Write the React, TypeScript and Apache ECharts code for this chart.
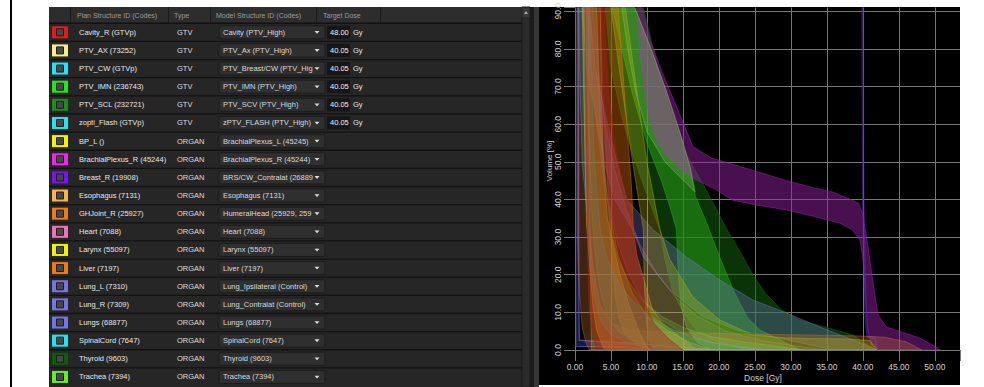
import React, { useEffect, useRef } from "react";
import * as echarts from "echarts";

// ---------------- table content ----------------
const columnHeaders = ["Plan Structure ID (Codes)", "Type", "Model Structure ID (Codes)", "Target Dose"];
const planStructureIds = [
  "Cavity_R (GTVp)", "PTV_AX (73252)", "PTV_CW (GTVp)", "PTV_IMN (236743)", "PTV_SCL (232721)",
  "zopti_Flash (GTVp)", "BP_L ()", "BrachialPlexus_R (45244)", "Breast_R (19908)", "Esophagus (7131)",
  "GHJoint_R (25927)", "Heart (7088)", "Larynx (55097)", "Liver (7197)", "Lung_L (7310)",
  "Lung_R (7309)", "Lungs (68877)", "SpinalCord (7647)", "Thyroid (9603)", "Trachea (7394)",
];
const structureTypes = [
  "GTV", "GTV", "GTV", "GTV", "GTV", "GTV",
  "ORGAN", "ORGAN", "ORGAN", "ORGAN", "ORGAN", "ORGAN", "ORGAN", "ORGAN",
  "ORGAN", "ORGAN", "ORGAN", "ORGAN", "ORGAN", "ORGAN",
];
const modelStructureIds = [
  "Cavity (PTV_High)", "PTV_Ax (PTV_High)", "PTV_Breast/CW (PTV_High", "PTV_IMN (PTV_High)", "PTV_SCV (PTV_High)",
  "zPTV_FLASH (PTV_High)", "BrachialPlexus_L (45245)", "BrachialPlexus_R (45244)", "BRS/CW_Contralat (268893",
  "Esophagus (7131)", "HumeralHead (25929, 2592", "Heart (7088)", "Larynx (55097)", "Liver (7197)",
  "Lung_Ipsilateral (Control)", "Lung_Contralat (Control)", "Lungs (68877)", "SpinalCord (7647)",
  "Thyroid (9603)", "Trachea (7394)",
];
const targetDoses = ["48.00", "40.05", "40.05", "40.05", "40.05", "40.05"];
const structureColors = [
  "#e31b1b", "#f4ef8a", "#25e2f2", "#22e622", "#1e8c1e", "#25e2f2", "#f2f200", "#f024f0",
  "#7a12f2", "#f8b444", "#f07a12", "#f072b4", "#f2f200", "#f07a12", "#7474e4", "#7474e4",
  "#7474e4", "#22e2f2", "#0b5c0b", "#62f022",
];

// ---------------- DVH bands: [dose Gy, volume %] ----------------
const thyroidUpper = [[9.5, 91], [11.5, 75], [13.5, 62], [15.5, 52], [17.5, 45], [19.5, 38], [21.1, 32], [23, 26], [24.7, 20], [26.5, 15], [28.5, 11], [31, 8], [35, 6], [38.6, 4], [40.5, 1.5], [42, 0]];
const thyroidLower = [[4.2, 91], [5, 75], [6.5, 62], [8, 52], [9.5, 44], [11, 36], [11.8, 32], [12.5, 24], [13.5, 16], [15, 10], [17, 5], [20, 2], [24, 0]];
const imnUpper = [[8.3, 91], [9.4, 85.7], [10.8, 78.8], [12.8, 68.2], [14.6, 57.6], [16, 48.6], [16.7, 41], [18.3, 33.7], [20.1, 24.7], [22, 15.9], [23.9, 8.8], [25.7, 5.3], [29.4, 1.9], [31.3, 0]];
const imnLower = [[5.2, 91], [6.5, 80], [8, 68], [10, 55], [12, 45], [13.2, 38], [14.1, 32], [14.3, 22], [14.7, 12], [15.5, 6], [17, 2], [19, 0]];
const plexusUpper = [[9.3, 91], [10.5, 82], [11.5, 77], [12.5, 72], [14.9, 61], [16.4, 54], [19, 51], [22.5, 49], [26, 47], [29.4, 45], [33, 43.2], [35.8, 42], [37.9, 40.3], [39.4, 39], [40, 36], [40.6, 29], [41.3, 19.4], [42.1, 9.3], [43.3, 6.1], [45.5, 4.7], [47.9, 3.2], [49.7, 1.3], [50.8, 0]];
const plexusLower = [[8.6, 91], [9, 80], [9.6, 70], [10.4, 61], [11.5, 55], [13, 51], [16, 46], [19.7, 42.5], [21.9, 39.8], [25, 38.6], [29.4, 37.2], [33, 35.6], [36.8, 33.7], [38.5, 32], [39.6, 29.2], [40, 24.7], [40.3, 15.9], [40.7, 5.3], [41.2, 1.3], [42.4, 0]];
const ptvAxUpper = [[8.3, 91], [9.4, 85.7], [10.8, 78.8], [12.8, 68.2], [14.6, 57.6], [16, 48.6], [16.7, 42]];
const ptvAxLower = [[6.5, 91], [7.5, 78], [8.5, 68], [10, 58], [12.5, 50], [16.7, 42]];
const lungsUpper = [[2, 91], [2.8, 75], [4.4, 61], [5.8, 50], [7.2, 40], [10.8, 32], [15.5, 24.7], [20.1, 18.6], [24.7, 13.3], [29.4, 9.8], [34, 6.1], [38.6, 2.7], [41, 0.8], [42, 0]];
const lungsLower = [[1, 91], [1.6, 75], [3, 61], [4, 50], [5.5, 40], [8, 32], [9.5, 24.7], [13.2, 15.9], [17.8, 8.8], [22.5, 5.3], [29.4, 2.7], [34, 0.8], [36, 0]];
const lungRUpper = [[0.5, 91], [0.5, 40], [0.55, 10], [0.6, 2.6], [3, 2.3], [8, 1.8], [12, 1.2], [16, 0.6], [20, 0]];
const lungRLower = [[0, 91], [0.1, 1], [5, 0.8], [10, 0.3], [14, 0]];
const breastUpper = [[40.05, 91], [40.15, 40], [40.5, 8], [40.8, 3.6], [41.8, 3.4], [42, 0]];
const breastLower = [[39.85, 91], [39.95, 40], [40.3, 8], [40.6, 3.2], [41.7, 3.0], [41.8, 0]];
const cavityUpper = [[4, 91], [4.6, 70], [5.5, 55], [6.5, 45], [7.5, 38], [8.1, 32], [8.6, 25], [9.2, 18], [9.8, 12], [11, 7], [13, 3], [15, 0]];
const cavityLower = [[1.4, 91], [1.5, 70], [1.6, 50], [1.7, 35], [1.8, 20], [2, 10], [2.5, 4], [3, 0]];
const ghJointUpper = [[6, 91], [6.8, 70], [7.4, 55], [7.9, 42], [8.1, 32], [8.6, 25], [9.4, 20], [10, 15.9], [10.8, 10.6], [12.2, 7], [14.6, 3.5], [16.4, 0.8], [17, 0]];
const ghJointLower = [[3.5, 91], [3.8, 70], [4.2, 55], [4.6, 42], [4.9, 32], [5.2, 22], [5.6, 14], [6.2, 8], [7, 4], [8.5, 1.5], [10, 0]];
const esophagusUpper = [[3.5, 91], [3.7, 70], [3.9, 50], [4.5, 35], [6.2, 20.4], [7.6, 11.4], [9, 4.5], [10, 0.8], [10.5, 0]];
const esophagusLower = [[1, 91], [1.2, 70], [1.4, 50], [1.6, 33.7], [2.1, 20.4], [2.5, 11.4], [3, 5.3], [3.9, 0.8], [4.2, 0]];
const larynxUpper = [[7, 91], [8.5, 70], [10, 50], [11.8, 32], [13.2, 24], [16.4, 14], [20.1, 8], [24.7, 4], [29.4, 3.2], [38, 2.9], [41, 2.5], [42, 0]];
const larynxLower = [[5, 91], [6.5, 70], [8, 50], [9.5, 32], [9.6, 20], [9.8, 10], [10.2, 3], [11, 0]];
const bpLUpper = [[3, 91], [3.5, 60], [4.5, 40], [6, 25], [8, 15], [10, 9], [13, 5], [16, 2], [19, 0]];
const bpLLower = [[1.9, 91], [2, 60], [2.1, 30], [2.2, 10], [2.3, 0]];
const tracheaUpper = [[3, 91], [3.4, 70], [4, 50], [4.9, 32], [6, 24], [7.5, 18], [9.5, 13], [12, 9], [15, 6], [19, 3.5], [24, 2], [30, 0.5], [32, 0]];
const tracheaLower = [[1.5, 91], [1.7, 70], [2, 50], [2.5, 32], [3, 22], [3.6, 15], [4.5, 9], [6, 5], [8, 2.5], [11, 1], [15, 0]];
const spinalCordUpper = [[2, 91], [2.3, 70], [2.7, 50], [3.5, 32], [4.5, 24], [6, 18], [8, 13], [10.5, 9], [13, 6], [16, 3.5], [20, 1.5], [25, 0.3], [27, 0]];
const spinalCordLower = [[0.5, 91], [0.7, 70], [1, 50], [1.9, 32], [2.2, 22], [2.7, 14], [3.5, 8], [5, 4], [7, 2], [10, 0.5], [13, 0]];
const heartUpper = [[2.5, 91], [3.2, 75], [4.2, 60], [5.5, 48], [7, 38], [9, 28], [11.5, 20], [14, 14], [17, 9], [21, 5], [26, 2.5], [31, 1], [35, 0]];
const heartLower = [[1.6, 91], [2.2, 75], [3, 60], [3.8, 48], [4.8, 38], [6, 28], [7.5, 20], [9.5, 13], [12, 8], [15, 4.5], [19, 2], [24, 0.5], [27, 0]];
const liverUpper = [[1.8, 91], [1.9, 60], [2, 32], [2.5, 22], [3.5, 12], [5, 7], [8, 5.2], [15, 4.6], [25, 4.2], [35, 3.9], [40, 3.7], [43, 3.4], [46, 2.2], [48.2, 0]];
const liverLower = [[0.3, 91], [0.3, 32], [0.6, 15], [1, 6], [1.5, 2], [2, 0]];

const FONT = '"Liberation Sans", Arial, sans-serif';

type Band = { name: string; upper: number[][]; lower: number[][]; rgb: string; a: number; stroke?: number; lw?: number };

const bands: Band[] = [
  { name: "Thyroid", upper: thyroidUpper, lower: thyroidLower, rgb: "18,95,14", a: 0.55 },
  { name: "PTV_IMN", upper: imnUpper, lower: imnLower, rgb: "40,165,22", a: 0.5 },
  { name: "BrachialPlexus_R", upper: plexusUpper, lower: plexusLower, rgb: "145,32,160", a: 0.5 },
  { name: "PTV_AX", upper: ptvAxUpper, lower: ptvAxLower, rgb: "190,215,150", a: 0.2 },
  { name: "Lungs", upper: lungsUpper, lower: lungsLower, rgb: "125,125,215", a: 0.3 },
  { name: "Lung_R", upper: lungRUpper, lower: lungRLower, rgb: "90,90,190", a: 0.3, stroke: 0.85, lw: 1.2 },
  { name: "Breast_R", upper: breastUpper, lower: breastLower, rgb: "90,40,180", a: 0.4, stroke: 0.5, lw: 1 },
  { name: "Liver", upper: liverUpper, lower: liverLower, rgb: "205,115,55", a: 0.3 },
  { name: "GHJoint_R", upper: ghJointUpper, lower: ghJointLower, rgb: "215,105,10", a: 0.42 },
  { name: "Esophagus", upper: esophagusUpper, lower: esophagusLower, rgb: "240,170,45", a: 0.42 },
  { name: "Larynx", upper: larynxUpper, lower: larynxLower, rgb: "185,185,20", a: 0.3 },
  { name: "BP_L", upper: bpLUpper, lower: bpLLower, rgb: "215,215,30", a: 0.2 },
  { name: "Trachea", upper: tracheaUpper, lower: tracheaLower, rgb: "115,225,55", a: 0.2 },
  { name: "SpinalCord", upper: spinalCordUpper, lower: spinalCordLower, rgb: "65,200,200", a: 0.22 },
  { name: "Heart", upper: heartUpper, lower: heartLower, rgb: "200,140,200", a: 0.16 },
  { name: "Cavity_R", upper: cavityUpper, lower: cavityLower, rgb: "170,30,30", a: 0.42 },
];

const ROW_H = 18.14;
const ROW0 = 23.2;

function tableElements(): any[] {
  const els: any[] = [];
  const rect = (x: number, y: number, w: number, h: number, fill: string, extra: any = {}) => ({
    type: "rect", silent: true, z: 10,
    shape: { x, y, width: w, height: h, r: extra.r || 0 },
    style: { fill, stroke: extra.stroke || null, lineWidth: extra.lw || 0 },
  });
  const text = (x: number, y: number, t: string, size: number, fill: string, extra: any = {}) => ({
    type: "text", silent: true, z: 12, x, y,
    style: {
      text: t, fill, font: `${size}px ${FONT}`, align: extra.align || "left", verticalAlign: "middle",
      width: extra.width, overflow: extra.width ? "truncate" : undefined, ellipsis: "",
    },
  });
  // left black border line
  els.push(rect(10, 0, 2, 387, "#000"));
  // panel background
  els.push(rect(49, 7, 473, 380, "#262626"));
  // header
  els.push(rect(49, 7, 473, 16, "#2d2d2d"));
  [70, 168, 210, 316, 380].forEach((x) => els.push(rect(x, 7, 1, 16, "#1a1a1a")));
  const headerX = [77, 174, 216, 323];
  columnHeaders.forEach((h, i) => els.push(text(headerX[i], 15.2, h, 7, "#9c9c9c")));
  planStructureIds.forEach((name, i) => {
    const top = ROW0 + i * ROW_H;
    const cy = top + ROW_H / 2;
    els.push(rect(49, top - 0.6, 473, 1.3, "#121212"));
    els.push(rect(52, cy - 6, 16, 12, structureColors[i]));
    els.push(rect(56.5, cy - 3.5, 7, 7, "#474747", { stroke: "#1c1c1c", lw: 1 }));
    els.push(text(79, cy, name, 7.5, "#e8e8e8"));
    els.push(text(177, cy, structureTypes[i], 7.5, "#dedede"));
    els.push(rect(219, cy - 6.5, 106, 13, "#2f2f2f", { r: 2, stroke: "#1d1d1d", lw: 1 }));
    els.push(text(223, cy, modelStructureIds[i], 7.5, "#dadada", { width: 93 }));
    els.push({
      type: "polygon", silent: true, z: 12,
      shape: { points: [[314.5, cy - 1.3], [319.5, cy - 1.3], [317, cy + 1.5]] },
      style: { fill: "#dcdcdc" },
    });
    if (i < targetDoses.length) {
      els.push(rect(327, cy - 6.5, 23, 13, "#161616"));
      els.push(text(330, cy, targetDoses[i], 7.5, "#f2f2f2"));
      els.push(text(353, cy, "Gy", 7.5, "#e6e6e6"));
    }
  });
  // scrollbar + splitter
  els.push(rect(522, 7, 8, 380, "#2b2b2b", { stroke: "#1a1a1a", lw: 1 }));
  els.push(rect(522.5, 8, 7, 9, "#383838"));
  els.push({ type: "polygon", silent: true, z: 12, shape: { points: [[524, 14], [528, 14], [526, 11]] }, style: { fill: "#aaaaaa" } });
  els.push(rect(530, 7, 4, 380, "#1b1b1b"));
  els.push(rect(534, 7, 5, 380, "#363636"));
  // chart background
  els.push({ type: "rect", silent: true, z: -10, shape: { x: 539, y: 7, width: 421, height: 378 }, style: { fill: "#000" } });
  // axis titles
  els.push({
    type: "text", silent: true, z: 12, x: 549, y: 161, rotation: Math.PI / 2,
    style: { text: "Volume [%]", fill: "#d4d4d4", font: `8px ${FONT}`, align: "center", verticalAlign: "middle" },
  });
  els.push({
    type: "text", silent: true, z: 12, x: 763, y: 378,
    style: { text: "Dose [Gy]", fill: "#d4d4d4", font: `8.5px ${FONT}`, align: "center", verticalAlign: "middle" },
  });
  return els;
}

function buildOption(): any {
  const gridColor = "#777777";
  return {
    animation: false,
    backgroundColor: "#ffffff",
    grid: { left: 575, right: 24, top: 7, bottom: 37, containLabel: false },
    xAxis: {
      type: "value", min: 0, max: 53.5, interval: 5,
      axisLine: { show: false },
      axisTick: { show: true, length: 11, lineStyle: { color: gridColor } },
      splitLine: { show: true, showMaxLine: false, lineStyle: { color: gridColor, width: 1 } },
      axisLabel: {
        color: "#d2d2d2", fontSize: 8.5, fontFamily: FONT, margin: 12,
        formatter: (v: number) => (Math.abs(v % 5) < 1e-9 ? v.toFixed(2) : ""),
      },
    },
    yAxis: {
      type: "value", min: 0, max: 91, interval: 10,
      axisLine: { show: false },
      axisTick: { show: true, length: 11, lineStyle: { color: gridColor } },
      splitLine: { show: true, showMaxLine: false, lineStyle: { color: gridColor, width: 1 } },
      axisLabel: {
        color: "#d2d2d2", fontSize: 8.5, fontFamily: FONT, margin: 13, rotate: 90,
        formatter: (v: number) => (Math.abs(v % 10) < 1e-9 ? v.toFixed(1) : ""),
      },
    },
    graphic: { elements: tableElements() },
    series: bands.map((b) => {
      const poly = [...b.upper, ...b.lower.slice().reverse()];
      const strokeA = b.stroke !== undefined ? b.stroke : Math.min(1, b.a + 0.2);
      return {
        type: "custom",
        name: b.name,
        coordinateSystem: "cartesian2d",
        clip: true,
        silent: true,
        data: poly,
        encode: { x: 0, y: 1 },
        renderItem: (params: any, api: any) => {
          if (params.dataIndex !== 0) return null;
          const pts = poly.map((p) => api.coord(p));
          return {
            type: "polygon",
            shape: { points: pts },
            style: { fill: `rgba(${b.rgb},${b.a})`, stroke: `rgba(${b.rgb},${strokeA})`, lineWidth: b.lw || 0.8 },
          };
        },
      };
    }),
  };
}

export default function App() {
  const ref = useRef<HTMLDivElement>(null);
  useEffect(() => {
    const chart = echarts.init(ref.current as HTMLDivElement, null, { renderer: "svg" });
    chart.setOption(buildOption());
    return () => chart.dispose();
  }, []);
  return <div ref={ref} style={{ position: "absolute", left: 0, top: 0, width: 984, height: 387 }} />;
}
